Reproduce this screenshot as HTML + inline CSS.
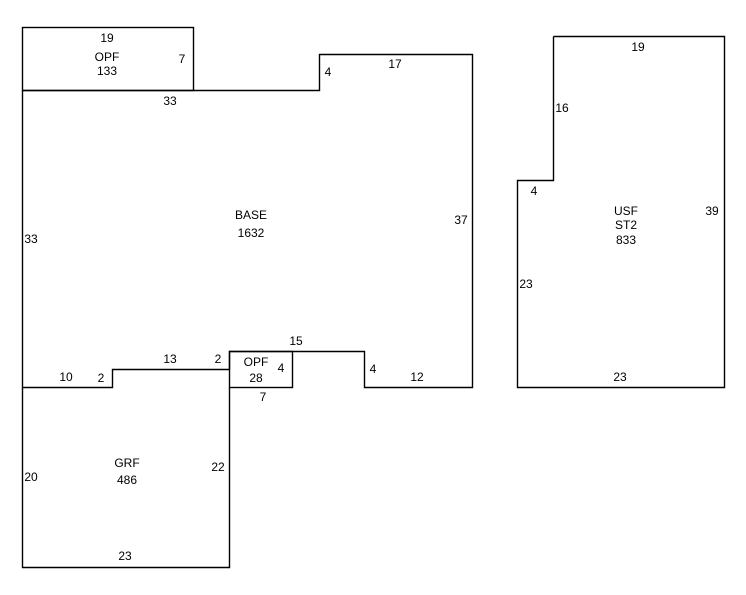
<!DOCTYPE html>
<html><head><meta charset="utf-8"><style>
html,body{margin:0;padding:0;background:#fff;}
svg{display:block;}
text{font-family:"Liberation Sans",Arial,sans-serif;font-size:12px;fill:#000;text-anchor:middle;}
</style></head><body>
<svg width="746" height="595" viewBox="0 0 746 595" xmlns="http://www.w3.org/2000/svg">
<g fill="none" stroke="#000" stroke-width="1.4">
<rect x="22.5" y="27.5" width="171" height="63"/>
<polyline points="22.5,90.5 319.5,90.5 319.5,54.5 472.5,54.5 472.5,387.5 364.5,387.5 364.5,351.5 229.5,351.5 229.5,369.5 112.5,369.5 112.5,387.5 22.5,387.5 22.5,90.5"/>
<rect x="229.5" y="351.5" width="63" height="36"/>
<polyline points="22.5,387.5 22.5,567.5 229.5,567.5 229.5,387.5"/>
<polyline points="553.5,36.5 724.5,36.5 724.5,387.5 517.5,387.5 517.5,180.5 553.5,180.5 553.5,36.5"/>
</g>
<text x="107" y="42">19</text>
<text x="107" y="61">OPF</text>
<text x="107" y="75">133</text>
<text x="182" y="63">7</text>
<text x="170" y="105">33</text>
<text x="328" y="76">4</text>
<text x="395" y="68">17</text>
<text x="251" y="219">BASE</text>
<text x="251" y="237">1632</text>
<text x="31" y="243">33</text>
<text x="461" y="224">37</text>
<text x="66" y="381">10</text>
<text x="101" y="382">2</text>
<text x="170" y="363">13</text>
<text x="218" y="363">2</text>
<text x="296" y="345">15</text>
<text x="256" y="366">OPF</text>
<text x="256" y="382">28</text>
<text x="281" y="372">4</text>
<text x="263" y="401">7</text>
<text x="373" y="373">4</text>
<text x="417" y="381">12</text>
<text x="127" y="467">GRF</text>
<text x="127" y="484">486</text>
<text x="31" y="481">20</text>
<text x="218" y="471">22</text>
<text x="125" y="560">23</text>
<text x="638" y="51">19</text>
<text x="562" y="112">16</text>
<text x="534" y="195">4</text>
<text x="626" y="215">USF</text>
<text x="626" y="229">ST2</text>
<text x="626" y="244">833</text>
<text x="712" y="215">39</text>
<text x="526" y="288">23</text>
<text x="620" y="381">23</text>
</svg>
</body></html>
